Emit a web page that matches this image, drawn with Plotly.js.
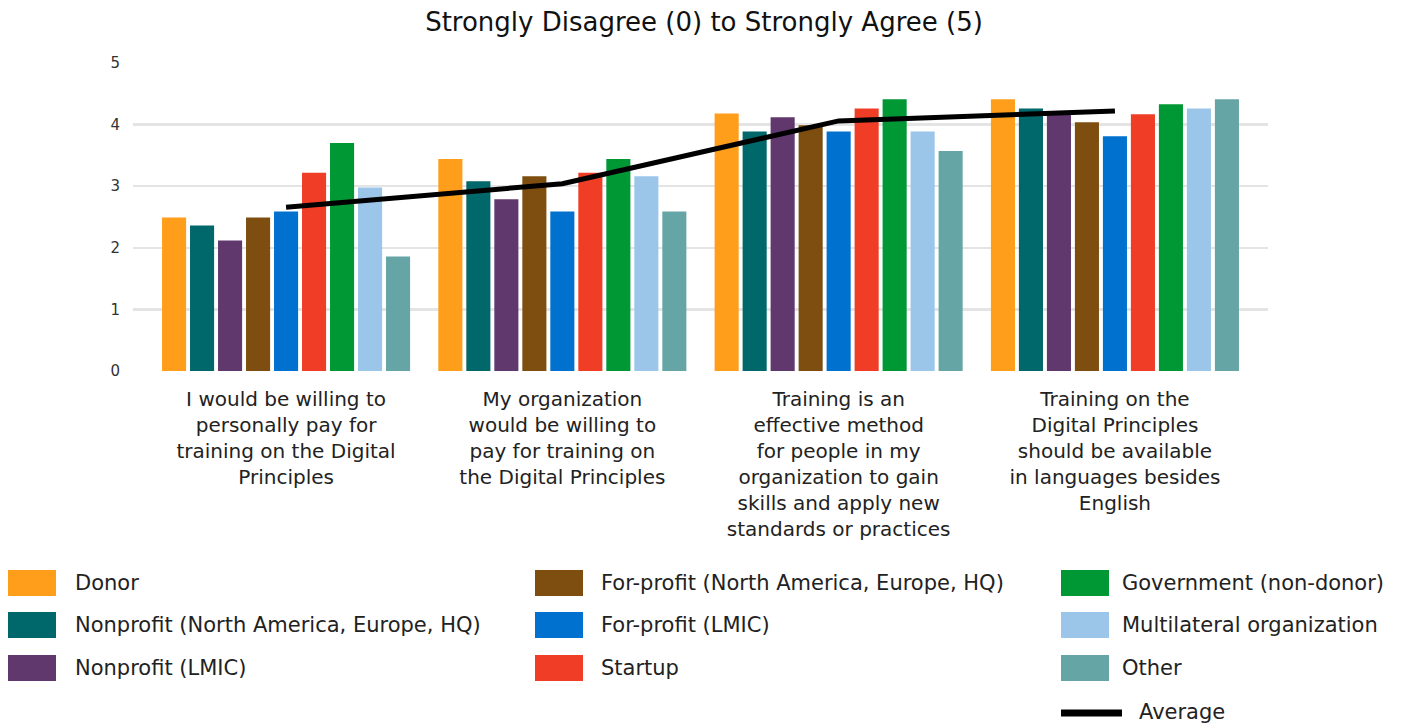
<!DOCTYPE html>
<html>
<head>
<meta charset="utf-8">
<script src="https://cdn.plot.ly/plotly-3.0.1.min.js"></script>
<style>html,body{margin:0;padding:0;background:#fff;}#chart{width:1408px;height:727px;}</style>
</head>
<body>
<div id="chart"></div>
<script>
const categories = [
  "I would be willing to<br>personally pay for<br>training on the Digital<br>Principles",
  "My organization<br>would be willing to<br>pay for training on<br>the Digital Principles",
  "Training is an<br>effective method<br>for people in my<br>organization to gain<br>skills and apply new<br>standards or practices",
  "Training on the<br>Digital Principles<br>should be available<br>in languages besides<br>English"
];
const seriesNames = [
  "Donor",
  "Nonprofit (North America, Europe, HQ)",
  "Nonprofit (LMIC)",
  "For-profit (North America, Europe, HQ)",
  "For-profit (LMIC)",
  "Startup",
  "Government (non-donor)",
  "Multilateral organization",
  "Other"
];
const donor          = [2.49, 3.44, 4.18, 4.41];
const nonprofitNA    = [2.36, 3.08, 3.89, 4.26];
const nonprofitLMIC  = [2.12, 2.79, 4.12, 4.18];
const forprofitNA    = [2.49, 3.16, 3.99, 4.04];
const forprofitLMIC  = [2.59, 2.59, 3.89, 3.81];
const startup        = [3.22, 3.22, 4.26, 4.17];
const government     = [3.70, 3.44, 4.41, 4.33];
const multilateral   = [2.98, 3.16, 3.89, 4.26];
const other          = [1.86, 2.59, 3.57, 4.41];
const average        = [2.66, 3.04, 4.06, 4.22];
const averageName = "Average";
const yTicks = [0, 1, 2, 3, 4, 5];
const seriesValues = [donor, nonprofitNA, nonprofitLMIC, forprofitNA, forprofitLMIC, startup, government, multilateral, other];
const colors = ["#FF9E1B","#00676A","#60386E","#7D4E10","#0071CE","#EF3D26","#009735","#9BC6EA","#66A5A6"];

const FONT = "DejaVu Sans, sans-serif";
const W = 1408, H = 727;
const M = {l: 133, r: 140, t: 63, b: 356};
const PW = W - M.l - M.r, PH = H - M.t - M.b;
// pixel -> paper helpers (for the hand-built legend only)
const px = v => (v - M.l) / PW;
const py = v => (H - M.b - v) / PH;

const traces = seriesNames.map((n, i) => ({
  type: "bar", name: n, x: categories, y: seriesValues[i],
  marker: {color: colors[i]}, hoverinfo: "y+name"
}));
traces.push({
  type: "scatter", mode: "lines", name: averageName, x: categories, y: average,
  line: {color: "#000", width: 5}
});

// Legend: 3 columns x 3 rows, plus Average line item
const colSwatchX = [8, 535, 1061];
const colTextX = [73, 599, 1120];
const rowCenterY = [583, 625, 668];
const shapes = [], annotations = [];
seriesNames.forEach((n, i) => {
  const c = Math.floor(i / 3), r = i % 3;
  shapes.push({type: "rect", xref: "paper", yref: "paper",
    x0: px(colSwatchX[c]), x1: px(colSwatchX[c] + 48),
    y0: py(rowCenterY[r] - 13), y1: py(rowCenterY[r] + 13),
    fillcolor: colors[i], line: {width: 0}});
  annotations.push({xref: "paper", yref: "paper", x: px(colTextX[c]), y: py(rowCenterY[r]),
    xanchor: "left", yanchor: "middle", showarrow: false, text: n,
    font: {family: FONT, size: 21, color: "#222"}});
});
shapes.push({type: "line", xref: "paper", yref: "paper",
  x0: px(1061), x1: px(1122), y0: py(713), y1: py(713), line: {color: "#000", width: 7}});
annotations.push({xref: "paper", yref: "paper", x: px(1137), y: py(712),
  xanchor: "left", yanchor: "middle", showarrow: false, text: averageName,
  font: {family: FONT, size: 21, color: "#222"}});

const layout = {
  width: W, height: H,
  margin: M,
  paper_bgcolor: "#fff", plot_bgcolor: "#fff",
  font: {family: FONT, color: "#222"},
  showlegend: false,
  title: {text: "Strongly Disagree (0) to Strongly Agree (5)", font: {family: FONT, size: 26, color: "#111"},
          x: 0.5, xanchor: "center", y: 1 - 22 / H, yanchor: "middle", xref: "container", yref: "container"},
  barmode: "group", bargap: 0.088, bargroupgap: 0.14,
  xaxis: {type: "category", range: [-0.554, 3.554], tickfont: {family: FONT, size: 20, color: "#222"},
          showgrid: false, showline: false, ticks: "", zeroline: false, ticklabelstandoff: 14},
  yaxis: {range: [0, 5], tickvals: yTicks, tickfont: {family: FONT, size: 15, color: "#333"},
          gridcolor: "#e4e4e4", gridwidth: 2.5, zeroline: false, showline: false, ticks: "",
          ticklabelstandoff: 12},
  shapes: shapes,
  annotations: annotations
};

Plotly.newPlot("chart", traces, layout, {displayModeBar: false, staticPlot: true});
</script>
</body>
</html>
